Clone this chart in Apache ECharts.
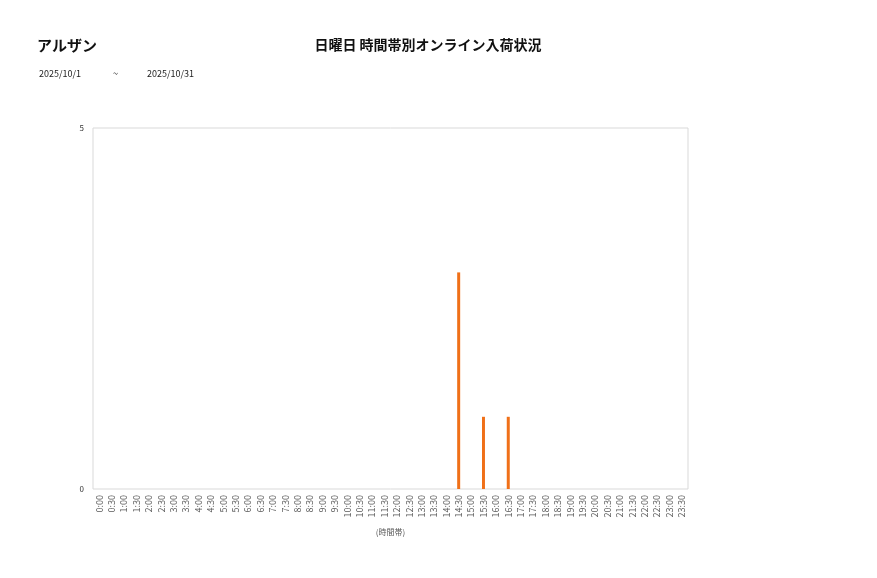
<!DOCTYPE html>
<html><head><meta charset="utf-8">
<script src="https://cdn.jsdelivr.net/npm/echarts@6/dist/echarts.min.js"></script>
<style>html,body{margin:0;padding:0;background:#fff;}#c{width:877px;height:578px;}</style>
</head><body><div id="c"></div>
<script>
const categories = ["0:00","0:30","1:00","1:30","2:00","2:30","3:00","3:30","4:00","4:30","5:00","5:30","6:00","6:30","7:00","7:30","8:00","8:30","9:00","9:30","10:00","10:30","11:00","11:30","12:00","12:30","13:00","13:30","14:00","14:30","15:00","15:30","16:00","16:30","17:00","17:30","18:00","18:30","19:00","19:30","20:00","20:30","21:00","21:30","22:00","22:30","23:00","23:30"];
const values = [0,0,0,0,0,0,0,0,0,0,0,0,0,0,0,0,0,0,0,0,0,0,0,0,0,0,0,0,0,3,0,1,0,1,0,0,0,0,0,0,0,0,0,0,0,0,0,0];
const yTicks = [0,5];
const font = "'Noto Sans CJK JP','Noto Sans',sans-serif";
const chart = echarts.init(document.getElementById('c'));
chart.setOption({
  animation:false,
  backgroundColor:'#fff',
  title:[
    {text:'アルザン',left:32,top:33,textStyle:{fontFamily:font,fontSize:15,fontWeight:'bold',color:'#111'}},
    {text:'日曜日 時間帯別オンライン入荷状況',left:423,top:33,textAlign:'center',textStyle:{fontFamily:font,fontSize:14,fontWeight:'bold',color:'#111'}},
    {text:'2025/10/1',left:34,top:64,textStyle:{fontFamily:font,fontSize:9,fontWeight:'normal',color:'#222'}},
    {text:'~',left:108,top:64,textStyle:{fontFamily:font,fontSize:9,fontWeight:'normal',color:'#222'}},
    {text:'2025/10/31',left:142,top:64,textStyle:{fontFamily:font,fontSize:9,fontWeight:'normal',color:'#222'}}
  ],
  grid:{left:93,right:189,top:128,bottom:89,show:true,borderColor:'#d9d9d9',borderWidth:1,containLabel:false},
  xAxis:{type:'category',data:categories,
    axisLine:{show:false},axisTick:{show:false},
    axisLabel:{rotate:90,interval:0,fontSize:9,color:'#595959',fontFamily:font,margin:6},
    name:'(時間帯)',nameLocation:'middle',nameGap:39,
    nameTextStyle:{fontSize:8,color:'#595959',fontFamily:font}},
  yAxis:{type:'value',min:yTicks[0],max:yTicks[yTicks.length-1],interval:5,
    splitLine:{show:false},axisLine:{show:false},axisTick:{show:false},
    axisLabel:{fontSize:8,color:'#333',fontFamily:font,margin:9}},
  series:[{type:'bar',data:values,barWidth:3,itemStyle:{color:'#f07018'}}]
});
</script></body></html>
